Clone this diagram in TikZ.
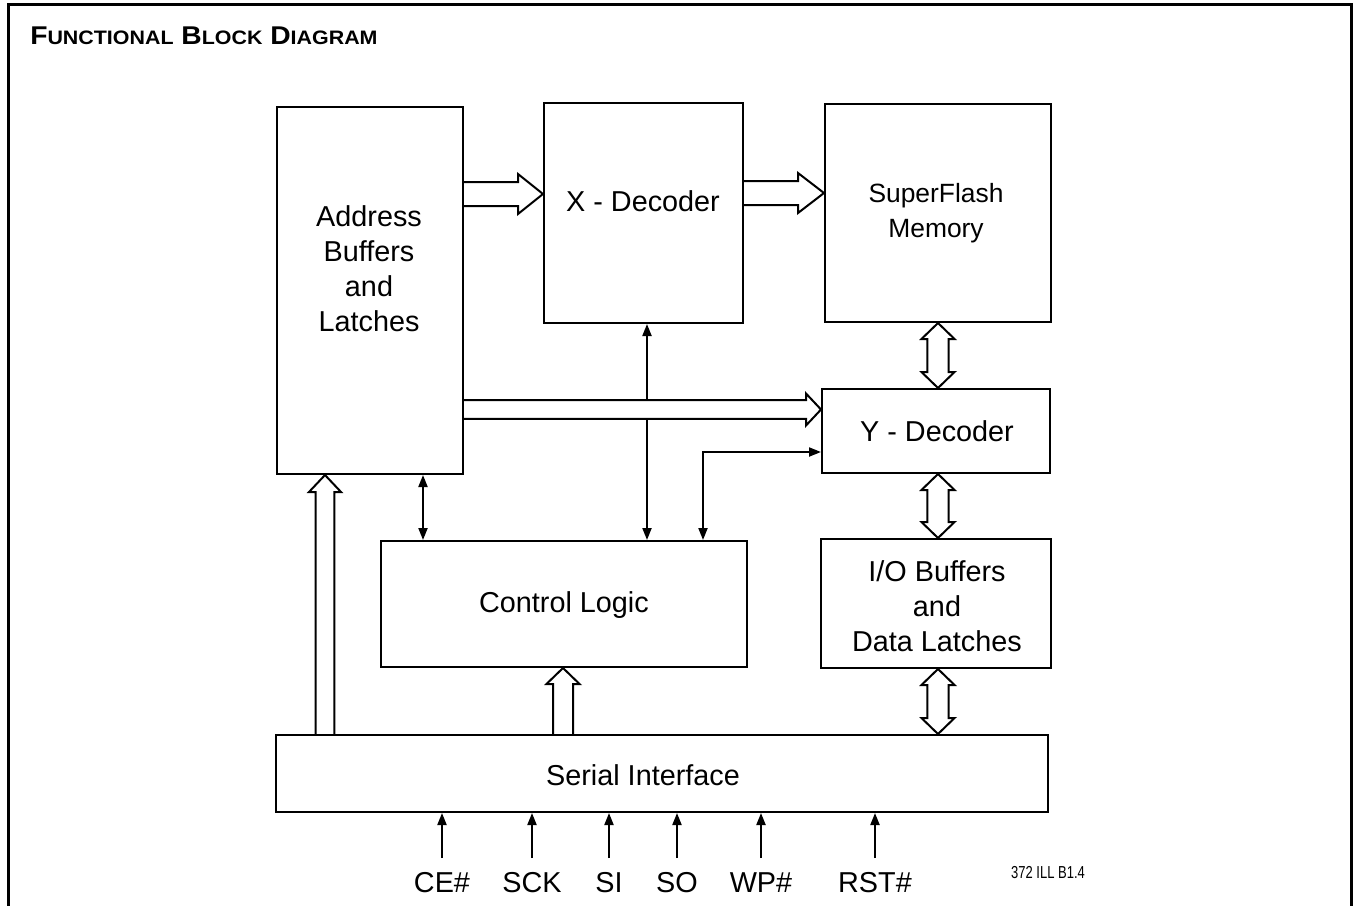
\documentclass[tikz,border=0pt]{standalone}
\usepackage{fontspec}
\setmainfont{Liberation Sans}
\newfontfamily\narrowfont[FakeStretch=0.75]{Liberation Sans}
\newfontfamily\titlefont[FakeStretch=1.1]{Liberation Sans}
\usetikzlibrary{arrows.meta,calc,fit}
\pgfdeclarelayer{bg}
\pgfsetlayers{bg,main}
\tikzset{
  tri/.tip={Triangle[length=9pt,width=6.75pt]},
  box/.style={draw,line width=1.5pt,inner sep=0pt},
  lbl/.style={font=\fontsize{21.6}{26.25}\selectfont,align=center,inner sep=0pt},
  wire/.style={line width=1.5pt},
  blk/.style={draw,fill=white,line width=1.5pt,line join=miter},
}
% horizontal block arrow: tail #1, tip #2 (to the east)
\newcommand\blkH[5]{\draw[blk] let \p1=(#1),\p2=(#2) in
  (\x1,\y1+#3) -- (\x2-#5,\y1+#3) -- (\x2-#5,\y1+#4) -- (\x2,\y1) --
  (\x2-#5,\y1-#4) -- (\x2-#5,\y1-#3) -- (\x1,\y1-#3);}
% upward block arrow: tail #1 (below), tip #2 (above)
\newcommand\blkU[5]{\draw[blk] let \p1=(#1),\p2=(#2) in
  (\x1-#3,\y1) -- (\x1-#3,\y2-#5) -- (\x1-#4,\y2-#5) -- (\x1,\y2) --
  (\x1+#4,\y2-#5) -- (\x1+#3,\y2-#5) -- (\x1+#3,\y1);}
% double vertical block arrow: #1 top tip, #2 bottom tip
\newcommand\blkD[5]{\draw[blk] let \p1=(#1),\p2=(#2) in
  (\x1-#3,\y1-#5) -- (\x1-#4,\y1-#5) -- (\x1,\y1) -- (\x1+#4,\y1-#5) --
  (\x1+#3,\y1-#5) -- (\x1+#3,\y2+#5) -- (\x1+#4,\y2+#5) -- (\x1,\y2) --
  (\x1-#4,\y2+#5) -- (\x1-#3,\y2+#5) -- cycle;}
\begin{document}
\begin{tikzpicture}[x=0.75pt,y=-0.75pt]
\useasboundingbox (0,0) rectangle (1353,906);
% frame
\draw[line width=2.25pt] (8.5,910) -- (8.5,5) -- (1351,5) -- (1351,910);
\node[anchor=base west,inner sep=0pt] (title) at (30,45)
  {\titlefont\bfseries\fontsize{19.25}{22}\selectfont F{\fontsize{14.6}{16}\selectfont UNCTIONAL}
   B{\fontsize{14.6}{16}\selectfont LOCK} D{\fontsize{14.6}{16}\selectfont IAGRAM}};

% boxes
\node[box,fit={(277,107)(463,474)}] (addr) {};
\node[box,fit={(544,103)(743,323)}] (xdec) {};
\node[box,fit={(825,104)(1051,322)}] (sf) {};
\node[box,fit={(822,389)(1050,473)}] (ydec) {};
\node[box,fit={(821,539)(1051,668)}] (io) {};
\node[box,fit={(381,541)(747,667)}] (ctrl) {};
\node[box,fit={(276,735)(1048,812)}] (serial) {};

% box texts
\node[lbl] (addrT) at (369,269) {Address\\Buffers\\and\\Latches};
\node[lbl] (xdecT) at (643,201) {X - Decoder};
\node[lbl,font=\fontsize{19.8}{26}\selectfont] (sfT) at (936,213) {SuperFlash\\Memory};
\node[lbl] (ydecT) at (937,431) {Y - Decoder};
\node[lbl] (ioT) at (937,606) {I/O Buffers\\and\\Data Latches};
\node[lbl] (ctrlT) at (564,605) {Control Logic};
\node[lbl] (serialT) at (643,775) {Serial Interface};

% input pins
\foreach \nm/\tx/\xx in {ce/CE\#/442, sck/SCK/532, si/SI/609, so/SO/677, wp/WP\#/761, rst/RST\#/875}{
  \node[lbl,font=\fontsize{21.6}{24}\selectfont,anchor=base] (\nm) at (\xx,892) {\tx};
  \coordinate (\nm T) at (\xx,858);
}
\node[anchor=center,inner sep=0pt,font=\narrowfont\fontsize{13}{14}\selectfont] (ill) at (1048,873) {372 ILL B1.4};

\begin{pgfonlayer}{bg}
  % thin connectors
  \draw[wire,tri-tri] (addr.south -| 423,0) -- (ctrl.north -| 423,0);
  \draw[wire,tri-tri] (xdec.south -| 647,0) -- (ctrl.north -| 647,0);
  \draw[wire,tri-tri] (ctrl.north -| 703,0) |- (ydec.west |- 0,452);
  \foreach \nm in {ce,sck,si,so,wp,rst}
    \draw[wire,-tri] (\nm T) -- (serial.south -| \nm T);
  % block arrows
  \blkH{addr.east |- 0,194}{xdec.west |- 0,194}{9pt}{15pt}{18.75pt}
  \blkH{xdec.east |- 0,193}{sf.west |- 0,193}{9pt}{15pt}{19.5pt}
  \blkH{addr.east |- 0,409.5}{ydec.west |- 0,409.5}{7.1pt}{12pt}{11.25pt}
  \blkU{serial.north -| 325,0}{addr.south -| 325,0}{7.1pt}{12pt}{12.75pt}
  \blkU{serial.north -| 563,0}{ctrl.south -| 563,0}{7.5pt}{12.4pt}{12pt}
  \blkD{sf.south -| 938,0}{ydec.north -| 938,0}{8pt}{12.4pt}{12pt}
  \blkD{ydec.south -| 938,0}{io.north -| 938,0}{8pt}{12.4pt}{12pt}
  \blkD{io.south -| 938,0}{serial.north -| 938,0}{8pt}{12.4pt}{12pt}
\end{pgfonlayer}
\end{tikzpicture}
\end{document}
